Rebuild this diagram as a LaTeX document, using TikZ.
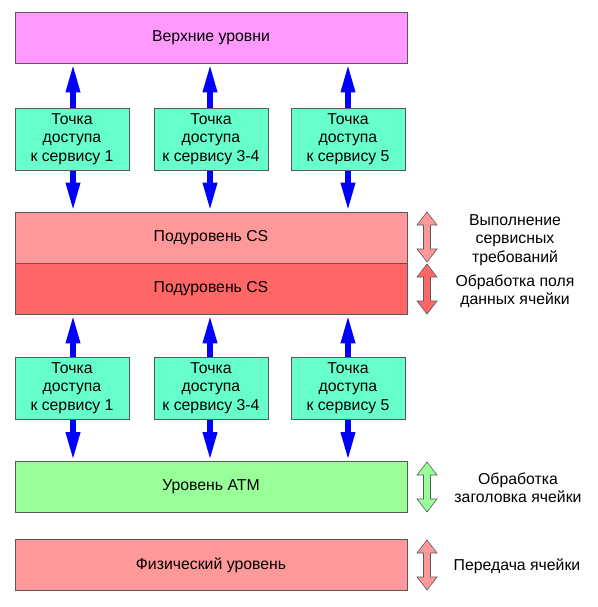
\documentclass[tikz,border=0pt]{standalone}
\usepackage{fontspec}
\setmainfont{Liberation Sans}
\usetikzlibrary{arrows.meta,positioning}
\definecolor{violetbox}{HTML}{FF99FF}
\definecolor{accessbox}{HTML}{66FFCC}
\definecolor{lightred}{HTML}{FF9999}
\definecolor{darkred}{HTML}{FF6666}
\definecolor{lightgreen}{HTML}{99FF99}
\tikzstyle{layer} = [draw=gray!70!black, line width=0.6pt, minimum width=392pt, minimum height=51pt, inner sep=0pt, font=\fontsize{15.8}{18.3}\selectfont]
\tikzstyle{access} = [draw=gray!70!black, line width=0.6pt, minimum width=114pt, minimum height=62pt, inner sep=0pt, align=center, fill=accessbox, font=\fontsize{15.8}{18.3}\selectfont]
\tikzstyle{bluearrow} = [{Triangle[length=29pt,width=13pt]}-{Triangle[length=29pt,width=13pt]}, line width=6pt, blue]
\tikzstyle{note} = [align=center, font=\fontsize{15.8}{18.3}\selectfont]
\newcommand{\sidearrow}[4]{%
\draw[gray!70!black, line width=0.6pt, fill=#4] (#1,#2) -- ++(10,13) -- ++(-6.5,0) -- (#1+3.5,#3-13) -- ++(6.5,0) -- (#1,#3) -- ++(-10,-13) -- ++(6.5,0) -- (#1-3.5,#2+13) -- ++(-6.5,0) -- cycle;}

\begin{document}
\begin{tikzpicture}[x=1pt,y=-1pt]
\useasboundingbox (0,0) rectangle (597,607);
\node[layer, fill=violetbox] (top) at (211,37.5) {Верхние уровни};
\node[layer, fill=lightred] (cs1) at (211,237.5) {Подуровень CS};
\node[layer, fill=darkred] (cs2) at (211,288.5) {Подуровень CS};
\node[layer, fill=lightgreen] (atm) at (211,487) {Уровень ATM};
\node[layer, fill=lightred] (phys) at (211,565) {Физический уровень};

\draw[bluearrow] (top.south -| 73,0) -- (cs1.north -| 73,0);
\draw[bluearrow] (top.south -| 210,0) -- (cs1.north -| 210,0);
\draw[bluearrow] (top.south -| 348,0) -- (cs1.north -| 348,0);
\draw[bluearrow] (cs2.south -| 73,0) -- (atm.north -| 73,0);
\draw[bluearrow] (cs2.south -| 210,0) -- (atm.north -| 210,0);
\draw[bluearrow] (cs2.south -| 348,0) -- (atm.north -| 348,0);

\node[access] (sapa) at (72,139) {Точка\\доступа\\к сервису 1};
\node[access] (sapb) at (211,139) {Точка\\доступа\\к сервису 3-4};
\node[access] (sapc) at (348,139) {Точка\\доступа\\к сервису 5};
\node[access] (sapd) at (72,388) {Точка\\доступа\\к сервису 1};
\node[access] (sape) at (211,388) {Точка\\доступа\\к сервису 3-4};
\node[access] (sapf) at (348,388) {Точка\\доступа\\к сервису 5};

\sidearrow{427}{212}{262}{lightred}
\sidearrow{427}{264}{314}{darkred}
\sidearrow{427}{462}{512}{lightgreen}
\sidearrow{427}{540}{590}{lightred}

\node[note] (servicereq) at (515,240) {Выполнение\\сервисных\\требований};
\node[note] (payload) at (515,291) {Обработка поля\\данных ячейки};
\node[note] (header) at (518,488) {Обработка\\заголовка ячейки};
\node[note] (transfer) at (517,566) {Передача ячейки};
\end{tikzpicture}
\end{document}
